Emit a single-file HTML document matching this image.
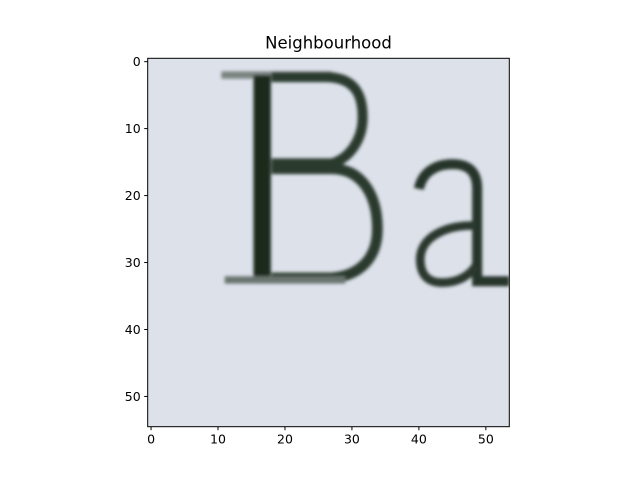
<!DOCTYPE html>
<html><head><meta charset="utf-8"><style>
html,body{margin:0;padding:0;background:#fff;}
svg{display:block;font-family:"DejaVu Sans","Liberation Sans",sans-serif;}
</style></head><body>
<svg id="chart" width="640" height="480" viewBox="0 0 640 480">
<defs><clipPath id="clip"><rect x="147.7" y="58.3" width="361.6" height="368.4"/></clipPath>
<filter id="soft" x="-10%" y="-10%" width="120%" height="120%"><feGaussianBlur stdDeviation="0.25"/></filter></defs>
<text x="328.5" y="48.5" text-anchor="middle" font-size="16.5">Neighbourhood</text>
<g clip-path="url(#clip)">
<rect x="147.7" y="58.3" width="361.6" height="368.4" fill="#dde1ea"/>
<g transform="translate(147.7,58.3) scale(6.696) translate(0.5,0.5)" fill="none" stroke-linecap="butt" filter="url(#soft)">
 <g>
  <path d="M10.5 2 H27" stroke="#7a8480" stroke-width="1.1"/>
  <rect x="15.3" y="2" width="2.6" height="31" fill="#1c2a1f"/>
  <path d="M18 2.3 H26 C30.5 2.3 31.6 5 31.6 8.3 C31.6 11.8 29.5 14.5 27 15.2 H18" stroke="#2a3a2e" stroke-width="1.5"/>
  <path d="M18 16 H27 C31.5 16 33.8 20 33.8 25 C33.8 29.5 31 32 27 32.3 H18" stroke="#2a3a2e" stroke-width="1.6"/>
  <path d="M11 32.6 H29" stroke="#6a7570" stroke-width="1.1"/>
 </g>
 <g>
  <path d="M40 19 C40.5 16.5 42.5 15.3 45 15.3 C47.5 15.3 48.7 16.5 48.7 19 V32.8 H53.5" stroke="#27352a" stroke-width="1.5"/>
  <path d="M48.5 24.5 C44.5 24.3 40.2 26 40.2 29.5 C40.2 32 41.5 33 43.5 33 C45.8 33 47.5 32 48.5 30.5" stroke="#2a382d" stroke-width="1.3"/>
 </g>
</g>
</g>
<rect x="147.7" y="58.3" width="361.6" height="368.4" fill="none" stroke="#000" stroke-width="1"/>
<g id="xticks"></g>
<g id="yticks"></g>
</svg>
<script>
const xTickValues=[0,10,20,30,40,50];
const yTickValues=[0,10,20,30,40,50];
const ns="http://www.w3.org/2000/svg";
const left=147.7, top_=58.3, bottom=426.7, s=6.696;
const xs=v=>left+(v+0.5)*s, ys=v=>top_+(v+0.5)*s;
const gx=document.getElementById('xticks'), gy=document.getElementById('yticks');
xTickValues.forEach(v=>{
  const l=document.createElementNS(ns,'line');
  
  
  l.setAttribute('x1',xs(v));l.setAttribute('x2',xs(v));l.setAttribute('y1',bottom);l.setAttribute('y2',bottom+3.5);l.setAttribute('stroke','#000');
  gx.appendChild(l);
  const t=document.createElementNS(ns,'text');
  
  
  t.setAttribute('x',xs(v));t.setAttribute('y',bottom+17);t.setAttribute('font-size','12.5');t.setAttribute('text-anchor','middle');
  t.textContent=v;gx.appendChild(t);
});
yTickValues.forEach(v=>{
  const l=document.createElementNS(ns,'line');
  
  
  l.setAttribute('x1',left-3.5);l.setAttribute('x2',left);l.setAttribute('y1',ys(v));l.setAttribute('y2',ys(v));l.setAttribute('stroke','#000');
  gy.appendChild(l);
  const t=document.createElementNS(ns,'text');
  
  
  t.setAttribute('x',left-7);t.setAttribute('y',ys(v)+4.5);t.setAttribute('font-size','12.5');t.setAttribute('text-anchor','end');
  t.textContent=v;gy.appendChild(t);
});
</script>
</body></html>
